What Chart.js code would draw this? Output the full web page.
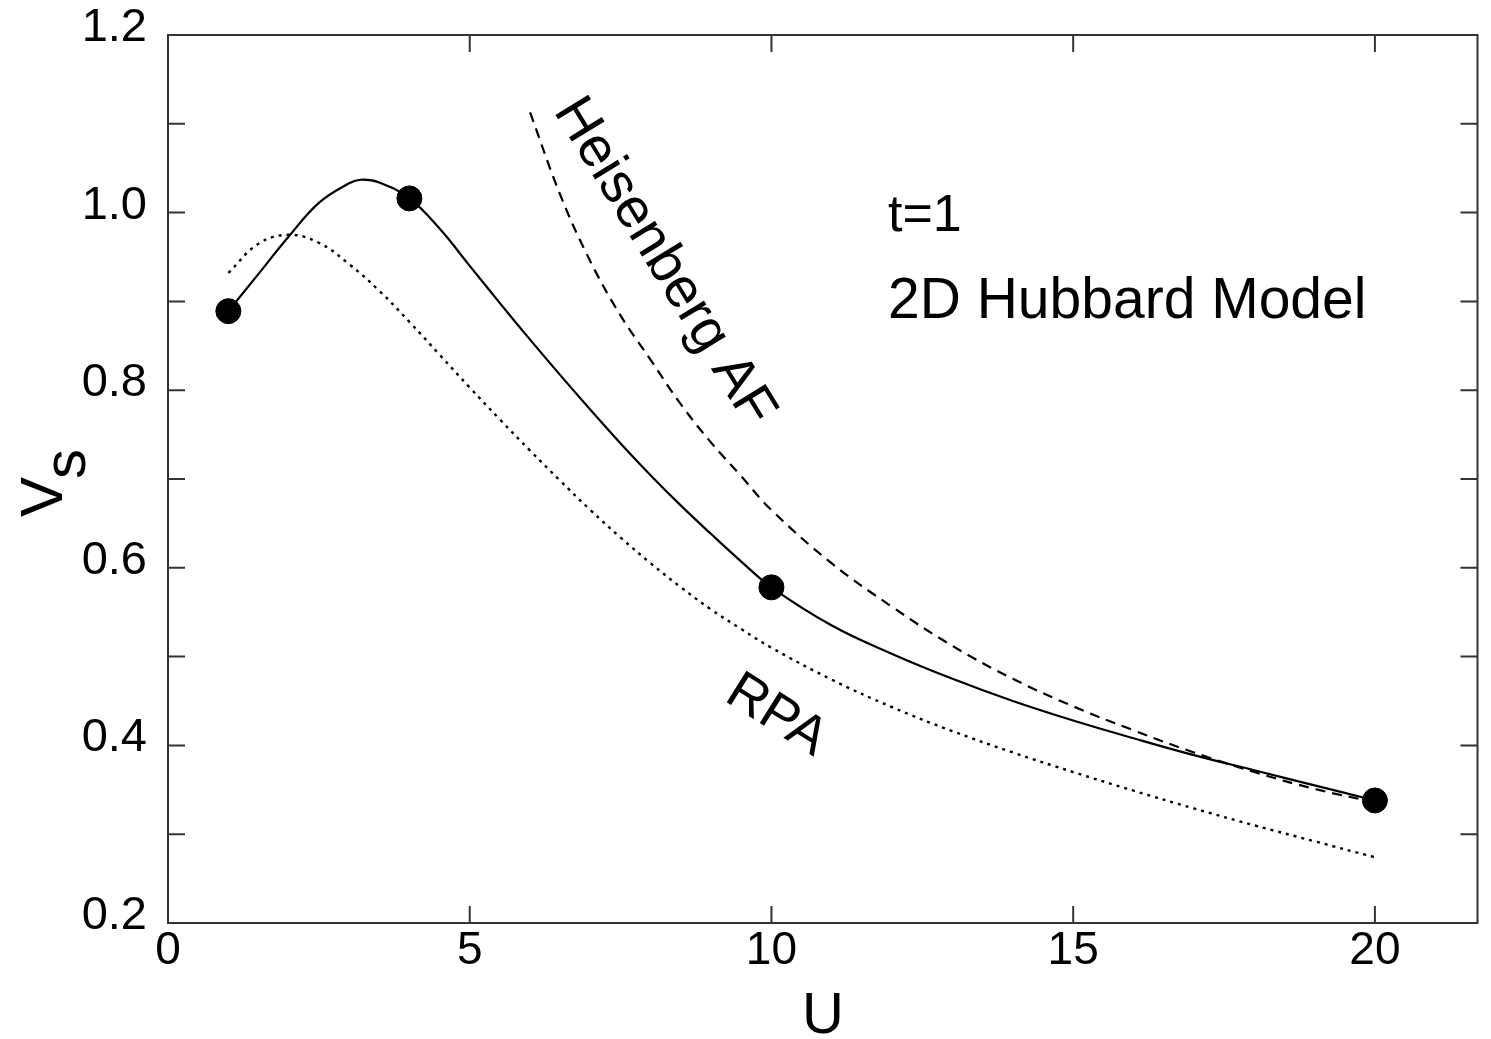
<!DOCTYPE html>
<html><head><meta charset="utf-8">
<script src="https://cdn.jsdelivr.net/npm/chart.js@4"></script>
<style>html,body{margin:0;padding:0;background:#fff;} #wrap{width:1491px;height:1039px;}</style>
</head><body><div id="wrap"><canvas id="c" width="1491" height="1039"></canvas></div>
<script>
// ---- data ----
const xTicks = [0, 5, 10, 15, 20];
const yTicks = [0.2, 0.4, 0.6, 0.8, 1.0, 1.2];
const yMinorTicks = [0.3, 0.5, 0.7, 0.9, 1.1];

const dataU = [1, 4, 10, 20];
const dataV = [0.889, 1.016, 0.578, 0.338];

const fitU = [1, 1.5, 2, 2.5, 3, 3.2, 3.5, 4, 4.5, 5, 5.5, 6, 6.5, 7, 7.5, 8, 8.5, 9, 9.5, 10, 11, 12, 13, 14, 15, 16, 17, 18, 19, 20];
const fitV = [0.889, 0.931, 0.973, 1.011, 1.033, 1.037, 1.034, 1.016, 0.982, 0.940, 0.898, 0.857, 0.817, 0.778, 0.740, 0.704, 0.670, 0.638, 0.607, 0.578, 0.535, 0.503, 0.475, 0.450, 0.428, 0.408, 0.389, 0.372, 0.355, 0.338];

const rpaU = [1, 1.5, 2, 2.5, 3, 3.5, 4, 4.5, 5, 5.5, 6, 6.5, 7, 7.5, 8, 8.5, 9, 9.5, 10, 11, 12, 13, 14, 15, 16, 17, 18, 19, 20];
const rpaV = [0.932, 0.965, 0.975, 0.966, 0.942, 0.912, 0.877, 0.840, 0.803, 0.767, 0.732, 0.698, 0.665, 0.634, 0.605, 0.578, 0.553, 0.531, 0.510, 0.474, 0.443, 0.416, 0.392, 0.370, 0.349, 0.329, 0.310, 0.292, 0.274];

const heisU = [6, 6.5, 7, 7.5, 8, 8.5, 9, 9.5, 10, 11, 12, 13, 14, 15, 16, 17, 18, 19, 20];
const heisV = [1.113, 1.020, 0.945, 0.884, 0.834, 0.784, 0.741, 0.703, 0.665, 0.605, 0.556, 0.512, 0.475, 0.444, 0.417, 0.392, 0.370, 0.351, 0.336];

const FONT = "'Liberation Sans', Arial, Helvetica, sans-serif";
const zip = (a, b) => a.map((v, i) => ({x: v, y: b[i]}));

const framePlugin = {
  id: 'frame',
  afterDatasetsDraw(chart) {
    const {ctx, chartArea: a, scales: {x, y}} = chart;
    ctx.save();
    ctx.strokeStyle = '#333';
    ctx.lineWidth = 2;
    ctx.strokeRect(a.left, a.top, a.right - a.left, a.bottom - a.top);
    const L = 17;
    ctx.beginPath();
    xTicks.forEach(v => {
      const px = x.getPixelForValue(v);
      ctx.moveTo(px, a.bottom); ctx.lineTo(px, a.bottom - L);
      ctx.moveTo(px, a.top); ctx.lineTo(px, a.top + L);
    });
    yTicks.concat(yMinorTicks).forEach(v => {
      const py = y.getPixelForValue(v);
      ctx.moveTo(a.left, py); ctx.lineTo(a.left + L, py);
      ctx.moveTo(a.right, py); ctx.lineTo(a.right - L, py);
    });
    ctx.stroke();
    ctx.restore();
  },
  afterDraw(chart) {
    const {ctx} = chart;
    ctx.save();
    ctx.fillStyle = '#000';
    ctx.textBaseline = 'alphabetic';
    ctx.textAlign = 'left';
    // annotations
    ctx.font = `52px ${FONT}`;
    ctx.fillText('t=1', 888, 231);
    ctx.font = `57px ${FONT}`;
    ctx.fillText('2D Hubbard Model', 888, 318);
    // Heisenberg AF rotated
    ctx.save();
    ctx.translate(553, 111);
    ctx.rotate(58.5 * Math.PI / 180);
    ctx.font = `56px ${FONT}`;
    ctx.fillText('Heisenberg AF', 0, 0);
    ctx.restore();
    // RPA rotated
    ctx.save();
    ctx.translate(723, 700);
    ctx.rotate(32 * Math.PI / 180);
    ctx.font = `54px ${FONT}`;
    ctx.fillText('RPA', 0, 0);
    ctx.restore();
    // x title
    ctx.textAlign = 'center';
    ctx.font = `58px ${FONT}`;
    ctx.fillText('U', 823, 1033);
    // y title V_s
    ctx.save();
    ctx.translate(62, 517);
    ctx.rotate(-Math.PI / 2);
    ctx.textAlign = 'left';
    ctx.font = `60px ${FONT}`;
    ctx.fillText('V', 0, 0);
    const w = ctx.measureText('V').width;
    ctx.fillText('s', w - 2, 23);
    ctx.restore();
    ctx.restore();
  }
};

new Chart(document.getElementById('c'), {
  type: 'scatter',
  data: {
    datasets: [
      {label: 'RPA', data: zip(rpaU, rpaV), showLine: true, borderColor: '#000', borderWidth: 2.4,
       borderDash: [3, 5], pointRadius: 0, tension: 0.4, order: 3},
      {label: 'Heisenberg AF', data: zip(heisU, heisV), showLine: true, borderColor: '#000', borderWidth: 2.2,
       borderDash: [10, 7], pointRadius: 0, tension: 0.4, order: 2},
      {label: 'fit', data: zip(fitU, fitV), showLine: true, borderColor: '#000', borderWidth: 2.2,
       pointRadius: 0, tension: 0.4, order: 1},
      {label: 'data', data: zip(dataU, dataV), showLine: false, pointRadius: 12.5, pointBackgroundColor: '#000',
       pointBorderColor: '#000', backgroundColor: '#000', borderColor: '#000', order: 0}
    ]
  },
  options: {
    responsive: false, animation: false, devicePixelRatio: 1,
    layout: {padding: {top: 35, right: 13, left: 0, bottom: 0}},
    plugins: {legend: {display: false}, tooltip: {enabled: false}},
    scales: {
      x: {
        type: 'linear', min: 0, max: 21.7,
        afterBuildTicks: s => { s.ticks = xTicks.map(v => ({value: v})); },
        afterFit: s => { s.height = 116; s.paddingLeft = 0; s.paddingRight = 0; },
        grid: {display: false, drawTicks: false},
        border: {display: false},
        ticks: {padding: 1, color: '#000', font: {family: FONT, size: 46}, maxRotation: 0, autoSkip: false,
                callback: v => String(v)}
      },
      y: {
        type: 'linear', min: 0.2, max: 1.2,
        afterBuildTicks: s => { s.ticks = yTicks.map(v => ({value: v})); },
        afterFit: s => { s.width = 168; s.paddingTop = 0; s.paddingBottom = 0; },
        grid: {display: false, drawTicks: false},
        border: {display: false},
        ticks: {padding: 21, labelOffset: -7, color: '#000', font: {family: FONT, size: 47}, autoSkip: false,
                callback: v => Number(v).toFixed(1)}
      }
    }
  },
  plugins: [framePlugin]
});
</script>
</body></html>
